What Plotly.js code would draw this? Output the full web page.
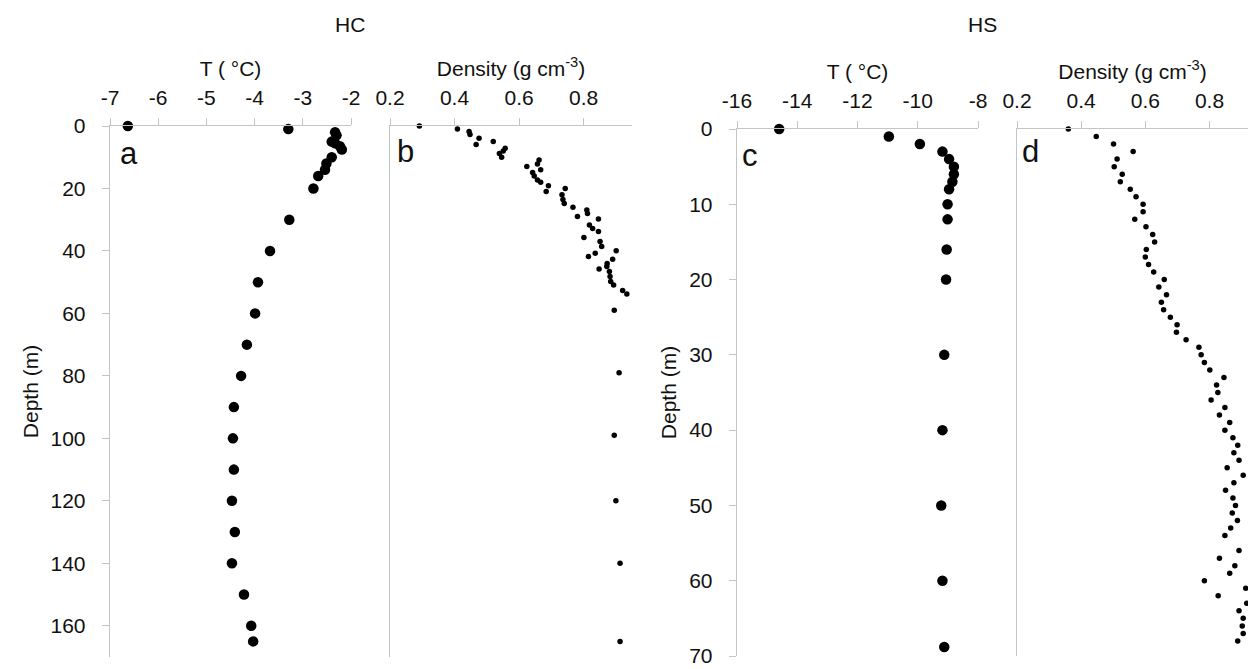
<!DOCTYPE html>
<html>
<head>
<meta charset="utf-8">
<script src="https://cdn.plot.ly/plotly-3.0.1.min.js"></script>
<style>html,body{margin:0;padding:0;background:#fff;}#chart{width:1248px;height:669px;}</style>
</head>
<body>
<div id="chart"></div>
<script>
// ---------- data ----------
// Panel a: HC temperature profile
const aDepth = [0, 1, 2, 3, 5, 5.5, 6.5, 7.5, 10, 12, 14, 16, 20, 30, 40, 50, 60, 70, 80, 90, 100, 110, 120, 130, 140, 150, 160, 165];
const aTemp  = [-6.63, -3.30, -2.33, -2.30, -2.40, -2.33, -2.23, -2.19, -2.40, -2.51, -2.54, -2.68, -2.78, -3.28, -3.68, -3.93, -3.99, -4.16, -4.28, -4.43, -4.45, -4.43, -4.47, -4.41, -4.47, -4.22, -4.07, -4.03];

// Panel b: HC density profile
const bDepth = [0, 1, 1.8, 2.7, 3.9, 5, 5.9, 7.1, 8, 8.8, 10, 10.9, 12.2, 13, 14, 14.9, 16, 17.3, 18, 19.1, 20, 21, 22, 23.5, 24.8, 26, 26.9, 28, 29, 29.8, 31.7, 32.8, 33.8, 35.7, 37, 38.6, 39.9, 40.7, 41.8, 42.7, 44, 45, 45.8, 46.6, 48.2, 49.8, 50.9, 51.9, 52.7, 53.8, 59, 79, 99, 120, 140, 165];
const bDens  = [0.291, 0.409, 0.445, 0.448, 0.476, 0.520, 0.467, 0.557, 0.551, 0.539, 0.546, 0.662, 0.657, 0.624, 0.667, 0.642, 0.647, 0.657, 0.667, 0.691, 0.743, 0.684, 0.733, 0.736, 0.740, 0.767, 0.810, 0.812, 0.781, 0.846, 0.818, 0.828, 0.846, 0.801, 0.851, 0.856, 0.901, 0.836, 0.815, 0.890, 0.873, 0.872, 0.848, 0.880, 0.882, 0.884, 0.893, 0.963, 0.921, 0.934, 0.895, 0.910, 0.895, 0.900, 0.913, 0.913];

// Panel c: HS temperature profile
const cDepth = [0, 1, 2, 3, 4, 5, 6, 7, 8, 10, 12, 16, 20, 30, 40, 50, 60, 68.8];
const cTemp  = [-14.60, -10.96, -9.93, -9.18, -8.96, -8.80, -8.80, -8.85, -8.96, -9.01, -9.01, -9.04, -9.06, -9.12, -9.18, -9.22, -9.18, -9.12];

// Panel d: HS density profile
const dDepth = [0, 1, 2, 3, 4, 5, 6, 7, 8, 9, 10, 11, 12, 13, 14, 15, 16, 17, 18, 19, 20, 21, 22, 23, 24, 25, 26, 27, 28, 29, 30, 31, 32, 33, 34, 35, 36, 37, 38, 39, 40, 41, 42, 43, 44, 45, 46, 47, 48, 49, 50, 51, 52, 53, 54, 56, 57, 58, 59, 60, 61, 62, 63, 64, 65, 66, 67, 68];
const dDens  = [0.360, 0.447, 0.501, 0.562, 0.512, 0.503, 0.528, 0.522, 0.553, 0.571, 0.593, 0.593, 0.567, 0.602, 0.623, 0.629, 0.603, 0.600, 0.610, 0.626, 0.659, 0.642, 0.666, 0.650, 0.657, 0.678, 0.699, 0.697, 0.727, 0.767, 0.774, 0.784, 0.801, 0.845, 0.822, 0.826, 0.805, 0.848, 0.831, 0.863, 0.848, 0.873, 0.888, 0.876, 0.892, 0.855, 0.905, 0.876, 0.850, 0.873, 0.881, 0.871, 0.887, 0.866, 0.848, 0.892, 0.831, 0.879, 0.863, 0.784, 0.913, 0.827, 0.916, 0.892, 0.905, 0.902, 0.905, 0.888];

// Tick labels
const tickA = [-7, -6, -5, -4, -3, -2];
const tickAText = ['-7', '-6', '-5', '-4', '-3', '-2'];
const tickC = [-16, -14, -12, -10, -8];
const tickCText = ['-16', '-14', '-12', '-10', '-8'];
const tickDens = [0.2, 0.4, 0.6, 0.8];
const tickDensText = ['0.2', '0.4', '0.6', '0.8'];
const siteNames = ['HC', 'HS'];
const panelLetters = ['a', 'b', 'c', 'd'];
const tempTitle = 'T ( °C)';
const densTitle = 'Density (g cm<sup>-3</sup>)';
const depthTitle = 'Depth (m)';

// ---------- layout helpers ----------
const W = 1248, H = 669;
const fx = p => p / W;
const fy = p => 1 - p / H;
const FONT = 'Liberation Sans, Arial, sans-serif';
const TXT = '#111111';
const AX = '#c4c4c4';
const FS = 21;

function xAxis(range, tv, tt, title, anchor, x0, x1) {
  return {
    domain: [fx(x0), fx(x1)], range: range, anchor: anchor, side: 'top',
    tickvals: tv, ticktext: tt, ticks: 'outside', ticklen: 7, tickwidth: 1, tickcolor: AX,
    showline: true, linecolor: AX, linewidth: 1.3, showgrid: false, zeroline: false,
    ticklabelstandoff: 4,
    tickfont: {family: FONT, size: FS, color: TXT},
    title: {text: title, font: {family: FONT, size: FS, color: TXT}, standoff: 4}
  };
}
function yAxis(range, dtick, showLabels, title, anchor, yTop, yBot) {
  const ax = {
    domain: [fy(yBot), fy(yTop)], range: range, anchor: anchor, autorange: false,
    dtick: dtick, tick0: 0, ticks: showLabels ? 'outside' : '', ticklen: 7, tickwidth: 1, tickcolor: AX,
    showticklabels: showLabels, ticklabelstandoff: 12,
    showline: true, linecolor: AX, linewidth: 1.3, showgrid: false, zeroline: false,
    tickfont: {family: FONT, size: FS, color: TXT}
  };
  if (title) ax.title = {text: title, font: {family: FONT, size: FS, color: TXT}, standoff: 6};
  return ax;
}

const big = {color: '#000', size: 10.5};
const small = {color: '#000', size: 5.5};

const traces = [
  {x: aTemp, y: aDepth, xaxis: 'x', yaxis: 'y', type: 'scatter', mode: 'markers', marker: big, cliponaxis: false},
  {x: bDens, y: bDepth, xaxis: 'x2', yaxis: 'y2', type: 'scatter', mode: 'markers', marker: small, cliponaxis: false},
  {x: cTemp, y: cDepth, xaxis: 'x3', yaxis: 'y3', type: 'scatter', mode: 'markers', marker: big, cliponaxis: false},
  {x: dDens, y: dDepth, xaxis: 'x4', yaxis: 'y4', type: 'scatter', mode: 'markers', marker: small, cliponaxis: false}
];

function note(text, px, py, size) {
  return {text: text, x: fx(px), y: fy(py), xref: 'paper', yref: 'paper', showarrow: false,
          xanchor: 'center', yanchor: 'middle', font: {family: FONT, size: size, color: TXT}};
}

const layout = {
  width: W, height: H, showlegend: false,
  margin: {l: 0, r: 0, t: 0, b: 0},
  paper_bgcolor: '#fff', plot_bgcolor: 'rgba(0,0,0,0)',
  xaxis:  xAxis([-7, -2], tickA, tickAText, tempTitle, 'y', 110, 351),
  xaxis2: xAxis([0.2, 0.95], tickDens, tickDensText, densTitle, 'y2', 390, 632),
  xaxis3: xAxis([-16, -8], tickC, tickCText, tempTitle, 'y3', 737, 978),
  xaxis4: xAxis([0.2, 0.92], tickDens, tickDensText, densTitle, 'y4', 1017, 1248),
  yaxis:  yAxis([170, 0], 20, true, depthTitle, 'x', 126, 657),
  yaxis2: yAxis([170, 0], 20, false, '', 'x2', 126, 657),
  yaxis3: yAxis([70, 0], 10, true, depthTitle, 'x3', 129, 656),
  yaxis4: yAxis([70, 0], 10, false, '', 'x4', 129, 656),
  annotations: [
    note(siteNames[0], 350, 25, FS),
    note(siteNames[1], 982, 25, FS),
    note(panelLetters[0], 129, 153, 31),
    note(panelLetters[1], 405, 151, 31),
    note(panelLetters[2], 750, 155, 31),
    note(panelLetters[3], 1030, 151, 31)
  ]
};

Plotly.newPlot('chart', traces, layout, {displayModeBar: false, staticPlot: true});
</script>
</body>
</html>
